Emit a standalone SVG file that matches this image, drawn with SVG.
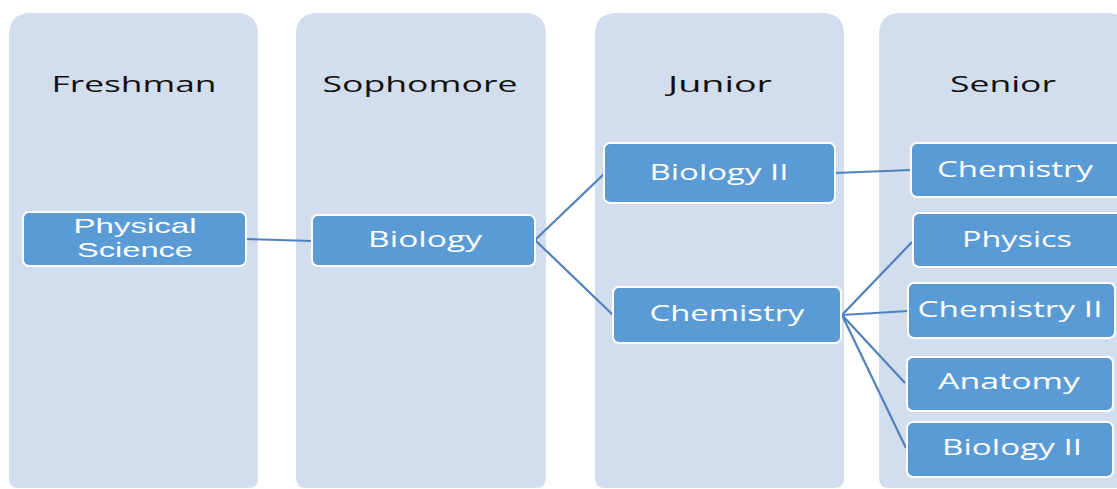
<svg xmlns="http://www.w3.org/2000/svg" width="1117" height="489" viewBox="0 0 1117 489">
<style>
.col{fill:#d2ddee}
.node{fill:#5b9bd5;stroke:#ffffff;stroke-width:2}
.hdr{font-family:"Open Sans","Liberation Sans",sans-serif;font-size:22px;fill:#111111;text-anchor:middle}
.lbl{font-family:"Open Sans","Liberation Sans",sans-serif;font-size:21px;fill:#ffffff;text-anchor:middle}
.lbl2{font-family:"Liberation Sans",sans-serif;font-size:21px;fill:#ffffff;text-anchor:middle}
.conn{stroke:#4f81bd;stroke-width:2.2;fill:none}
</style>
<rect width="1117" height="489" fill="#ffffff"/>
<g id="col-freshman">
<path class="col" d="M9,35 Q9,13 31,13 L236,13 Q258,13 258,35 L258,478 Q258,488 248,488 L19,488 Q9,488 9,478 Z"/>
<text class="hdr" x="134" y="92" textLength="165" lengthAdjust="spacingAndGlyphs">Freshman</text>
</g>
<g id="col-sophomore">
<path class="col" d="M296,35 Q296,13 318,13 L524,13 Q546,13 546,35 L546,478 Q546,488 536,488 L306,488 Q296,488 296,478 Z"/>
<text class="hdr" x="420" y="92" textLength="195" lengthAdjust="spacingAndGlyphs">Sophomore</text>
</g>
<g id="col-junior">
<path class="col" d="M595,35 Q595,13 617,13 L822,13 Q844,13 844,35 L844,478 Q844,488 834,488 L605,488 Q595,488 595,478 Z"/>
<text class="hdr" x="720" y="92" textLength="104" lengthAdjust="spacingAndGlyphs">Junior</text>
</g>
<g id="col-senior">
<path class="col" d="M879,35 Q879,13 901,13 L1107,13 Q1129,13 1129,35 L1129,478 Q1129,488 1119,488 L889,488 Q879,488 879,478 Z"/>
<text class="hdr" x="1003" y="92" textLength="106" lengthAdjust="spacingAndGlyphs">Senior</text>
</g>
<g id="connectors">
<line class="conn" x1="246" y1="239" x2="312" y2="241"/>
<line class="conn" x1="535" y1="240" x2="604" y2="174"/>
<line class="conn" x1="535" y1="240" x2="613" y2="315"/>
<line class="conn" x1="835" y1="173" x2="911" y2="170"/>
<line class="conn" x1="842" y1="315" x2="912" y2="242"/>
<line class="conn" x1="842" y1="315" x2="908" y2="311"/>
<line class="conn" x1="842" y1="315" x2="905" y2="383"/>
<line class="conn" x1="842" y1="315" x2="906" y2="448"/>
</g>
<g id="node-physical-science">
<rect class="node" x="23" y="212" width="223" height="54" rx="6"/>
<text class="lbl2" x="135" y="233" textLength="123" lengthAdjust="spacingAndGlyphs">Physical</text>
<text class="lbl2" x="135" y="257" textLength="116" lengthAdjust="spacingAndGlyphs">Science</text>
</g>
<g id="node-biology">
<rect class="node" x="312" y="215" width="223" height="51" rx="6"/>
<text class="lbl" x="425" y="247" textLength="114" lengthAdjust="spacingAndGlyphs">Biology</text>
</g>
<g id="node-biology-ii-junior">
<rect class="node" x="604" y="143" width="231" height="60" rx="6"/>
<text class="lbl" x="719" y="180" textLength="139" lengthAdjust="spacingAndGlyphs">Biology II</text>
</g>
<g id="node-chemistry-junior">
<rect class="node" x="613" y="287" width="228" height="56" rx="6"/>
<text class="lbl" x="727" y="321" textLength="155" lengthAdjust="spacingAndGlyphs">Chemistry</text>
</g>
<g id="node-chemistry-senior">
<rect class="node" x="911" y="143" width="215" height="54" rx="6"/>
<text class="lbl" x="1015" y="177" textLength="156" lengthAdjust="spacingAndGlyphs">Chemistry</text>
</g>
<g id="node-physics">
<rect class="node" x="913" y="213" width="213" height="54" rx="6"/>
<text class="lbl" x="1017" y="247" textLength="110" lengthAdjust="spacingAndGlyphs">Physics</text>
</g>
<g id="node-chemistry-ii">
<rect class="node" x="908" y="283" width="207" height="55" rx="6"/>
<text class="lbl" x="1010" y="317" textLength="185" lengthAdjust="spacingAndGlyphs">Chemistry II</text>
</g>
<g id="node-anatomy">
<rect class="node" x="907" y="357" width="206" height="54" rx="6"/>
<text class="lbl" x="1009" y="389" textLength="142" lengthAdjust="spacingAndGlyphs">Anatomy</text>
</g>
<g id="node-biology-ii-senior">
<rect class="node" x="907" y="422" width="206" height="55" rx="6"/>
<text class="lbl" x="1012" y="455" textLength="140" lengthAdjust="spacingAndGlyphs">Biology II</text>
</g>
</svg>
